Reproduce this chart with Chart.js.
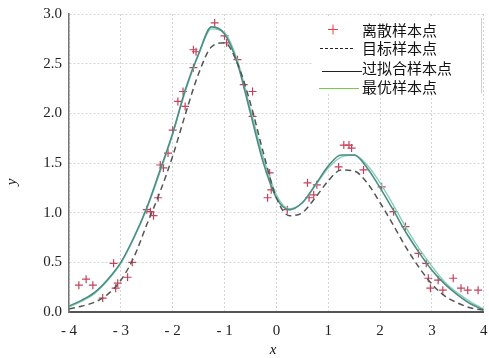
<!DOCTYPE html>
<html>
<head>
<meta charset="utf-8">
<script src="https://cdn.jsdelivr.net/npm/chart.js@4"></script>
<style>
  html, body { margin: 0; padding: 0; background: #fff; }
  #wrap { width: 489px; height: 358px; position: relative; }
</style>
</head>
<body>
<div id="wrap"><canvas id="grafico"></canvas></div>
<script>
// curvas (amostradas a cada 0.25)
const CURVE_X = [-4, -3.75, -3.5, -3.25, -3, -2.75, -2.5, -2.25, -2, -1.75, -1.5, -1.25, -1, -0.75, -0.5, -0.25,
  0, 0.25, 0.5, 0.75, 1, 1.25, 1.5, 1.75, 2, 2.25, 2.5, 2.75, 3, 3.25, 3.5, 3.75, 4];
const TARGET_Y = [0.03, 0.06, 0.1, 0.18, 0.32, 0.55, 0.88, 1.2, 1.57, 2.0, 2.4, 2.67, 2.71, 2.5, 2.1, 1.6,
  1.15, 0.97, 1.0, 1.15, 1.32, 1.43, 1.42, 1.3, 1.1, 0.88, 0.65, 0.45, 0.28, 0.16, 0.09, 0.04, 0.02];
const OVERFIT_Y = [0.06, 0.12, 0.2, 0.33, 0.5, 0.75, 1.05, 1.42, 1.8, 2.25, 2.6, 2.87, 2.8, 2.5, 2.0, 1.5,
  1.15, 1.03, 1.1, 1.28, 1.47, 1.58, 1.58, 1.45, 1.25, 1.03, 0.8, 0.6, 0.42, 0.28, 0.17, 0.08, 0.02];
const OPTIMAL_Y = [0.05, 0.11, 0.19, 0.32, 0.49, 0.74, 1.04, 1.4, 1.79, 2.23, 2.59, 2.85, 2.81, 2.53, 2.04, 1.55,
  1.18, 1.04, 1.1, 1.27, 1.45, 1.56, 1.58, 1.48, 1.3, 1.08, 0.85, 0.64, 0.46, 0.3, 0.19, 0.1, 0.03];

// pontos discretos
const SAMPLE_X = [-3.81, -3.67, -3.54, -3.35, -3.1, -3.06, -3.14, -2.87, -2.78, -2.5, -2.43, -2.37, -2.28, -2.24,
  -2.18, -2.09, -2.0, -1.9, -1.8, -1.76, -1.6, -1.6, -1.55, -1.19, -1.0, -0.96, -0.75, -0.63, -0.46, -0.46,
  -0.17, -0.13, -0.1, 0.21, 0.6, 0.63, 0.72, 0.78, 1.2, 1.3, 1.4, 1.45, 1.68, 2.03, 2.26, 2.49, 2.74, 2.89,
  2.93, 2.97, 3.12, 3.21, 3.41, 3.56, 3.69, 3.89];
const SAMPLE_Y = [0.27, 0.33, 0.27, 0.14, 0.24, 0.29, 0.49, 0.35, 0.5, 1.03, 1.01, 0.97, 1.15, 1.48,
  1.45, 1.6, 1.83, 2.12, 2.22, 2.07, 2.46, 2.64, 2.62, 2.91, 2.78, 2.71, 2.54, 2.29, 2.22, 1.97,
  1.15, 1.4, 1.23, 1.03, 1.3, 1.15, 1.18, 1.28, 1.46, 1.68, 1.68, 1.65, 1.43, 1.26, 1.01, 0.86, 0.59, 0.49,
  0.34, 0.24, 0.32, 0.22, 0.34, 0.24, 0.22, 0.22];

const X_TICKS = [-4, -3, -2, -1, 0, 1, 2, 3, 4];
const Y_TICKS = [0, 0.5, 1, 1.5, 2, 2.5, 3];
const LEGEND_LABELS = ["离散样本点", "目标样本点", "过拟合样本点", "最优样本点"];

const COR_PONTO = "#c8405a";
const COR_ALVO = "#555555";
const COR_FIT = "#4d8c86";
const COR_OTIMO = "#86d0b4";
const FONTE_NUM = "'Liberation Serif', 'DejaVu Serif', serif";
const FONTE_CJK = "'Noto Sans CJK SC', sans-serif";

function pares(xs, ys) {
  return xs.map((x, i) => ({ x: x, y: ys[i] }));
}

// legenda e títulos dos eixos desenhados à mão
const legendaPlugin = {
  id: "legendaManual",
  afterDraw(chart) {
    const ctx = chart.ctx;
    ctx.save();
    ctx.fillStyle = "#fff";
    ctx.fillRect(312, 18, 170, 76);
    ctx.strokeStyle = "#cfcfcf";
    ctx.lineWidth = 1;
    ctx.beginPath();
    ctx.moveTo(481.5, 18);
    ctx.lineTo(481.5, 93);
    ctx.stroke();

    // marcador +
    ctx.strokeStyle = "#e84040";
    ctx.lineWidth = 1;
    ctx.beginPath();
    ctx.moveTo(328, 29.5); ctx.lineTo(338, 29.5);
    ctx.moveTo(333, 24.5); ctx.lineTo(333, 34.5);
    ctx.stroke();

    // tracejado
    ctx.strokeStyle = "#222";
    ctx.lineWidth = 1.2;
    ctx.setLineDash([3, 2]);
    ctx.beginPath();
    ctx.moveTo(320, 48.5); ctx.lineTo(355, 48.5);
    ctx.stroke();
    ctx.setLineDash([]);

    ctx.beginPath();
    ctx.moveTo(322, 71.5); ctx.lineTo(362, 71.5);
    ctx.stroke();

    ctx.strokeStyle = "#7cc64a";
    ctx.beginPath();
    ctx.moveTo(319, 88.5); ctx.lineTo(359, 88.5);
    ctx.stroke();

    ctx.fillStyle = "#111";
    ctx.font = "15px " + FONTE_CJK;
    ctx.textBaseline = "middle";
    ctx.textAlign = "left";
    const linhas = [30, 48, 68, 87];
    LEGEND_LABELS.forEach((t, i) => ctx.fillText(t, 362, linhas[i]));

    // títulos
    ctx.font = "italic 15px " + FONTE_NUM;
    ctx.textAlign = "center";
    ctx.fillText("x", 273, 350);
    ctx.translate(12, 182);
    ctx.rotate(-Math.PI / 2);
    ctx.fillText("y", 0, 0);
    ctx.restore();
  },
};

new Chart(document.getElementById("grafico"), {
  type: "scatter",
  data: {
    datasets: [
      {
        label: LEGEND_LABELS[1],
        data: pares(CURVE_X, TARGET_Y),
        showLine: true,
        borderColor: COR_ALVO,
        borderWidth: 1.5,
        borderDash: [6, 4],
        pointRadius: 0,
        cubicInterpolationMode: "monotone",
      },
      {
        label: LEGEND_LABELS[2],
        data: pares(CURVE_X, OVERFIT_Y),
        showLine: true,
        borderColor: COR_FIT,
        borderWidth: 1.6,
        pointRadius: 0,
        cubicInterpolationMode: "monotone",
      },
      {
        label: LEGEND_LABELS[3],
        data: pares(CURVE_X, OPTIMAL_Y),
        showLine: true,
        borderColor: COR_OTIMO,
        borderWidth: 1.4,
        pointRadius: 0,
        cubicInterpolationMode: "monotone",
      },
      {
        label: LEGEND_LABELS[0],
        data: pares(SAMPLE_X, SAMPLE_Y),
        pointStyle: "cross",
        pointRadius: 4,
        pointBorderWidth: 1.2,
        borderColor: COR_PONTO,
        backgroundColor: COR_PONTO,
      },
    ],
  },
  options: {
    responsive: true,
    maintainAspectRatio: false,
    animation: false,
    layout: { padding: { top: 14, right: 2, left: 0, bottom: 0 } },
    plugins: {
      legend: { display: false },
      tooltip: { enabled: false },
    },
    scales: {
      x: {
        type: "linear",
        min: -4,
        max: 4,
        afterBuildTicks: (s) => { s.ticks = X_TICKS.map((v) => ({ value: v })); },
        afterFit: (s) => { s.height = 46; s.paddingLeft = 0; s.paddingRight = 0; },
        ticks: {
          color: "#222",
          padding: 10,
          maxRotation: 0,
          font: { family: FONTE_NUM, size: 15 },
          callback: (v) => (v < 0 ? "- " + Math.abs(v) : String(v)),
        },
        grid: { color: "#d4d4d4", drawTicks: false },
        border: { color: "#555", width: 2, dash: [2, 2] },
      },
      y: {
        min: 0,
        max: 3,
        afterBuildTicks: (s) => { s.ticks = Y_TICKS.map((v) => ({ value: v })); },
        afterFit: (s) => { s.width = 69; s.paddingTop = 0; s.paddingBottom = 0; },
        ticks: {
          color: "#222",
          padding: 7,
          font: { family: FONTE_NUM, size: 15 },
          callback: (v) => v.toFixed(1),
        },
        grid: { color: "#d4d4d4", drawTicks: false },
        border: { color: "#777", width: 1.5, dash: [2, 2] },
      },
    },
  },
  plugins: [legendaPlugin],
});
</script>
</body>
</html>
